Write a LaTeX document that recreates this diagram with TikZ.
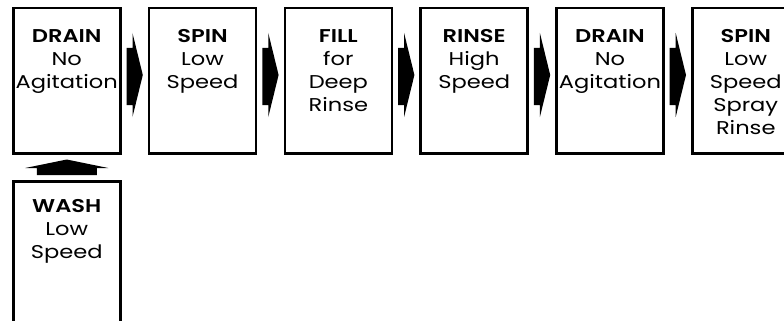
\documentclass[tikz,border=0pt]{standalone}
\usepackage{fontspec}
\setmainfont{Poppins}[BoldFont=* SemiBold, FakeStretch=1.22]
\usetikzlibrary{calc,positioning}

\tikzset{
  stage/.style={draw, line width=2.5pt, minimum width=107pt, minimum height=145pt, inner sep=0pt, anchor=north west},
  stagetext/.style={anchor=north, align=center, inner sep=0pt, font=\fontsize{18.5}{23}\selectfont},
  blockarrow/.style={fill=black, draw=none},
}

\begin{document}
\begin{tikzpicture}[x=1pt,y=-1pt]

% Page size of the reference (pixels)
\useasboundingbox (0,0) rectangle (784,321);
\clip (0,0) rectangle (784,321);

% Horizontal pitch of the stages
\def\dx{135.8}
% Left edge and top edge of first stage
\def\xo{12}
\def\yo{7}

% Row of stages
\foreach \i/\name/\txt in {
   0/drainA/{\textbf{DRAIN}\\No\\Agitation},
   1/spinA/{\textbf{SPIN}\\Low\\Speed},
   2/fill/{\textbf{FILL}\\for\\Deep\\Rinse},
   3/rinse/{\textbf{RINSE}\\High\\Speed},
   4/drainB/{\textbf{DRAIN}\\No\\Agitation},
   5/spinB/{\textbf{SPIN}\\Low\\Speed\\Spray\\Rinse}}{
   \node[stage] (\name) at ({\xo+\i*\dx},\yo) {};
   \node[stagetext] (\name-txt) at ($(\name.north)+(0,22)$) {\txt};
}

% Wash stage below the first drain
\node[stage, minimum height=141pt] (wash) at (\xo,180) {};
\node[stagetext] (wash-txt) at ($(wash.north)+(0,19)$) {\textbf{WASH}\\Low\\Speed};

% Block arrows between the stages
\foreach \a/\b in {drainA/spinA, spinA/fill, fill/rinse, rinse/drainB, drainB/spinB}{
   \fill[blockarrow] ($(\a.north east)+(5,41)$) -- ++(6,0) -- ++(0,-15)
      -- ($(\b.north west)+(-5,68)$) -- ($(\a.north east)+(11,110)$)
      -- ++(0,-12) -- ++(-6,0) -- cycle;
}

% Up arrow from wash to drain
\fill[blockarrow] ($(wash.north)+(-30,-5)$) -- ++(0,-7) -- ++(-11.5,0)
   -- ($(drainA.south)+(0,5)$) -- ($(wash.north)+(41.5,-12)$)
   -- ++(-11.5,0) -- ++(0,7) -- cycle;

\end{tikzpicture}
\end{document}
